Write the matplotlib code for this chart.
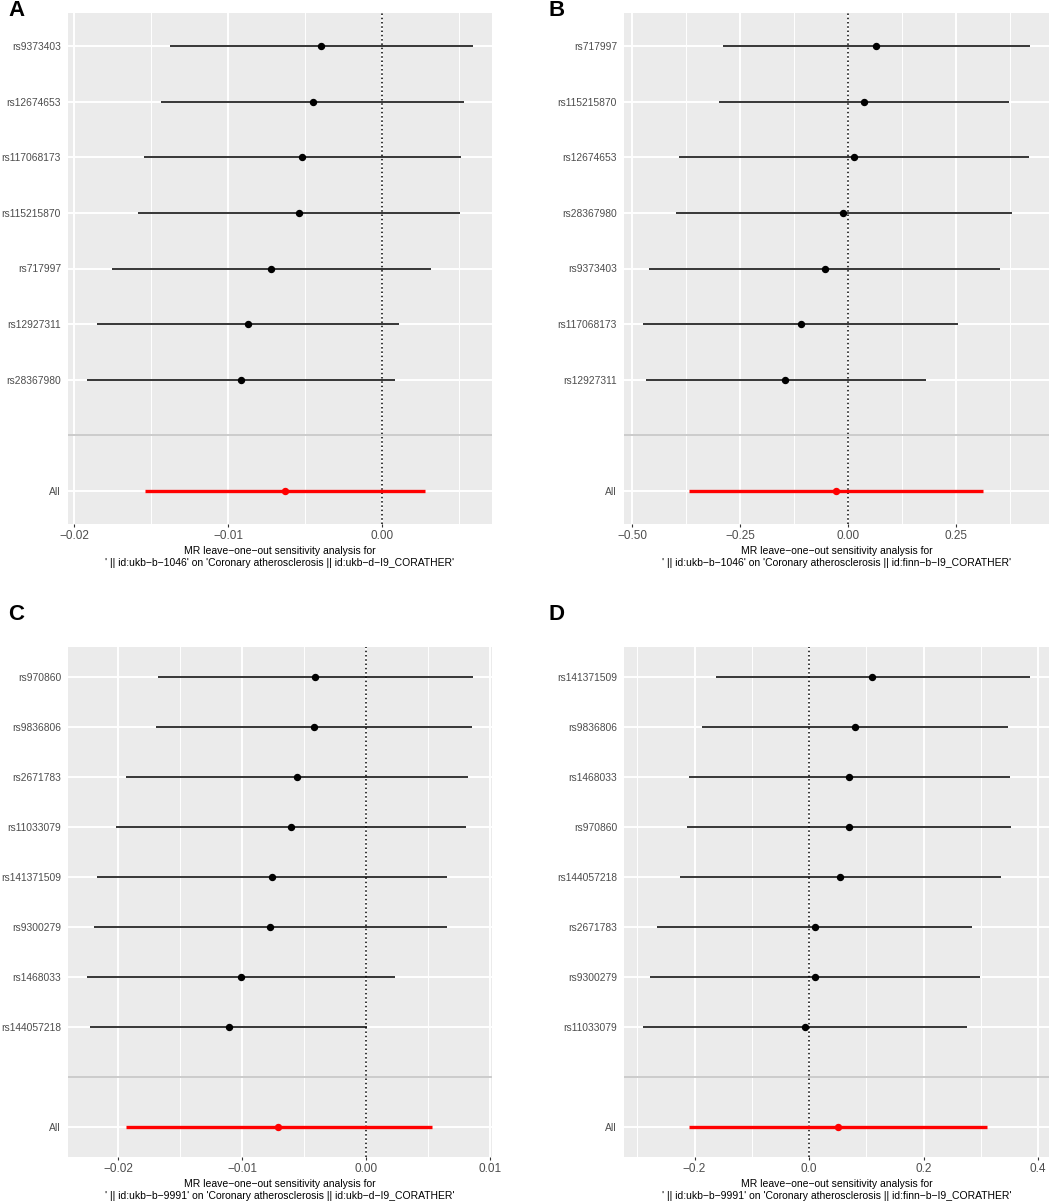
import matplotlib
matplotlib.use("Agg")
import matplotlib.pyplot as plt
import numpy as np

plt.rcParams['font.family'] = ['Liberation Sans', 'DejaVu Sans']

# ---------------- data (SNPs listed top to bottom) ----------------
snps_A = ["rs9373403", "rs12674653", "rs117068173", "rs115215870", "rs717997", "rs12927311", "rs28367980"]
b_A = [-0.00398, -0.00452, -0.00522, -0.00541, -0.00723, -0.00872, -0.00916]
lo_A = [-0.01379, -0.01435, -0.01550, -0.01589, -0.01758, -0.01853, -0.01916]
hi_A = [0.00586, 0.00528, 0.00509, 0.00506, 0.00312, 0.00108, 0.00080]
all_A = (-0.00632, -0.01541, 0.00279)

snps_B = ["rs717997", "rs115215870", "rs12674653", "rs28367980", "rs9373403", "rs117068173", "rs12927311"]
b_B = [0.0647, 0.037, 0.013, -0.011, -0.054, -0.109, -0.146]
lo_B = [-0.289, -0.298, -0.391, -0.399, -0.461, -0.474, -0.468]
hi_B = [0.420, 0.371, 0.418, 0.379, 0.352, 0.254, 0.179]
all_B = (-0.028, -0.369, 0.313)

snps_C = ["rs970860", "rs9836806", "rs2671783", "rs11033079", "rs141371509", "rs9300279", "rs1468033", "rs144057218"]
b_C = [-0.00410, -0.00420, -0.00555, -0.00606, -0.00760, -0.00774, -0.01006, -0.01108]
lo_C = [-0.01682, -0.01695, -0.01935, -0.02021, -0.02175, -0.02199, -0.02250, -0.02226]
hi_C = [0.00862, 0.00857, 0.00827, 0.00811, 0.00652, 0.00652, 0.00237, 0.00005]
all_C = (-0.00707, -0.01938, 0.00534)

snps_D = ["rs141371509", "rs9836806", "rs1468033", "rs970860", "rs144057218", "rs2671783", "rs9300279", "rs11033079"]
b_D = [0.1104, 0.0802, 0.0703, 0.0697, 0.0546, 0.0105, 0.0099, -0.0070]
lo_D = [-0.1634, -0.1872, -0.2105, -0.2128, -0.2262, -0.2650, -0.2785, -0.2895]
hi_D = [0.3853, 0.3481, 0.3516, 0.3533, 0.3353, 0.2848, 0.2988, 0.2760]
all_D = (0.0506, -0.2099, 0.3114)

xticks_A = [-0.02, -0.01, 0.00]; xticklabels_A = ["\u22120.02", "\u22120.01", "0.00"]; minor_A = [-0.015, -0.005, 0.005]
xticks_B = [-0.50, -0.25, 0.00, 0.25]; xticklabels_B = ["\u22120.50", "\u22120.25", "0.00", "0.25"]; minor_B = [-0.375, -0.125, 0.125, 0.375]
xticks_C = [-0.02, -0.01, 0.00, 0.01]; xticklabels_C = ["\u22120.02", "\u22120.01", "0.00", "0.01"]; minor_C = [-0.015, -0.005, 0.005]
xticks_D = [-0.2, 0.0, 0.2, 0.4]; xticklabels_D = ["\u22120.2", "0.0", "0.2", "0.4"]; minor_D = [-0.3, -0.1, 0.1, 0.3]

xlab_A = "MR leave\u2212one\u2212out sensitivity analysis for\n' || id:ukb\u2212b\u22121046' on 'Coronary atherosclerosis || id:ukb\u2212d\u2212I9_CORATHER'"
xlab_B = "MR leave\u2212one\u2212out sensitivity analysis for\n' || id:ukb\u2212b\u22121046' on 'Coronary atherosclerosis || id:finn\u2212b\u2212I9_CORATHER'"
xlab_C = "MR leave\u2212one\u2212out sensitivity analysis for\n' || id:ukb\u2212b\u22129991' on 'Coronary atherosclerosis || id:ukb\u2212d\u2212I9_CORATHER'"
xlab_D = "MR leave\u2212one\u2212out sensitivity analysis for\n' || id:ukb\u2212b\u22129991' on 'Coronary atherosclerosis || id:finn\u2212b\u2212I9_CORATHER'"

panels = [
    ("A", snps_A, b_A, lo_A, hi_A, all_A, xticks_A, xticklabels_A, minor_A, xlab_A),
    ("B", snps_B, b_B, lo_B, hi_B, all_B, xticks_B, xticklabels_B, minor_B, xlab_B),
    ("C", snps_C, b_C, lo_C, hi_C, all_C, xticks_C, xticklabels_C, minor_C, xlab_C),
    ("D", snps_D, b_D, lo_D, hi_D, all_D, xticks_D, xticklabels_D, minor_D, xlab_D),
]

W, H = 1056, 1202
fig = plt.figure(figsize=(W / 100, H / 100), dpi=100)

# axes rectangles in pixels: (left, top, right, bottom)
rects = [(68, 13, 492, 524), (624, 13, 1049, 524),
         (68, 647, 492, 1157), (624, 647, 1049, 1157)]
label_pos = [(8, 11), (548, 11), (8, 614), (548, 614)]

bg = "#EBEBEB"
for (name, snps, b, lo, hi, allv, xt, xtl, mn, xlab), (l, t, r, btm), (lx, ly) in zip(panels, rects, label_pos):
    ax = fig.add_axes([l / W, 1 - btm / H, (r - l) / W, (btm - t) / H])
    ax.set_facecolor(bg)
    for s in ax.spines.values():
        s.set_visible(False)
    n = len(snps)
    # y positions: All=1, blank=2, SNPs 3..n+2 (top SNP highest)
    ypos = np.arange(n + 2, 2, -1)
    # x-range with ggplot-like 5% expansion
    xmin = min(min(lo), allv[1], 0)
    xmax = max(max(hi), allv[2], 0)
    rng = xmax - xmin
    ax.set_xlim(xmin - 0.05 * rng, xmax + 0.05 * rng)
    ax.set_ylim(0.4, n + 2.6)

    # grid
    ax.set_axisbelow(True)
    ax.set_xticks(xt)
    ax.set_xticklabels(xtl)
    ax.set_xticks(mn, minor=True)
    yt = [1, 2] + list(ypos[::-1])
    ytl = ["All", ""] + list(snps[::-1])
    ax.set_yticks(yt)
    ax.set_yticklabels(ytl)
    ax.grid(which="major", color="white", linewidth=1.4)
    ax.grid(which="minor", axis="x", color="white", linewidth=0.7)

    ax.tick_params(axis="x", which="major", length=2.5, width=0.8, color="#333333",
                   labelsize=8.5, labelcolor="#4D4D4D", pad=1.5)
    ax.tick_params(axis="x", which="minor", length=0)
    ax.tick_params(axis="y", which="both", length=0, labelsize=7.4, labelcolor="#4D4D4D", pad=5)

    # dotted zero line
    ax.axvline(0, color="black", linestyle=(0, (1, 1.8)), linewidth=1.1, zorder=2)
    # SNP error bars and points
    ax.hlines(ypos, lo, hi, color="black", linewidth=1.1, zorder=3)
    ax.plot(b, ypos, "o", color="black", markersize=4.3, zorder=4)
    # overall
    ax.hlines([1], [allv[1]], [allv[2]], color="red", linewidth=2.4, zorder=3)
    ax.plot([allv[0]], [1], "o", color="red", markersize=4.3, zorder=4)
    # separator
    ax.axhline(2, color="#BEBEBE", linewidth=1.1, zorder=5)

    ax.set_xlabel(xlab, fontsize=7.45, color="black", labelpad=3.5, linespacing=1.15)
    fig.text(lx / W, 1 - ly / H, name, fontsize=16, fontweight="bold",
             ha="left", va="center", family=["Liberation Sans", "DejaVu Sans"])

fig.savefig("out.png", dpi=100, facecolor="white")
